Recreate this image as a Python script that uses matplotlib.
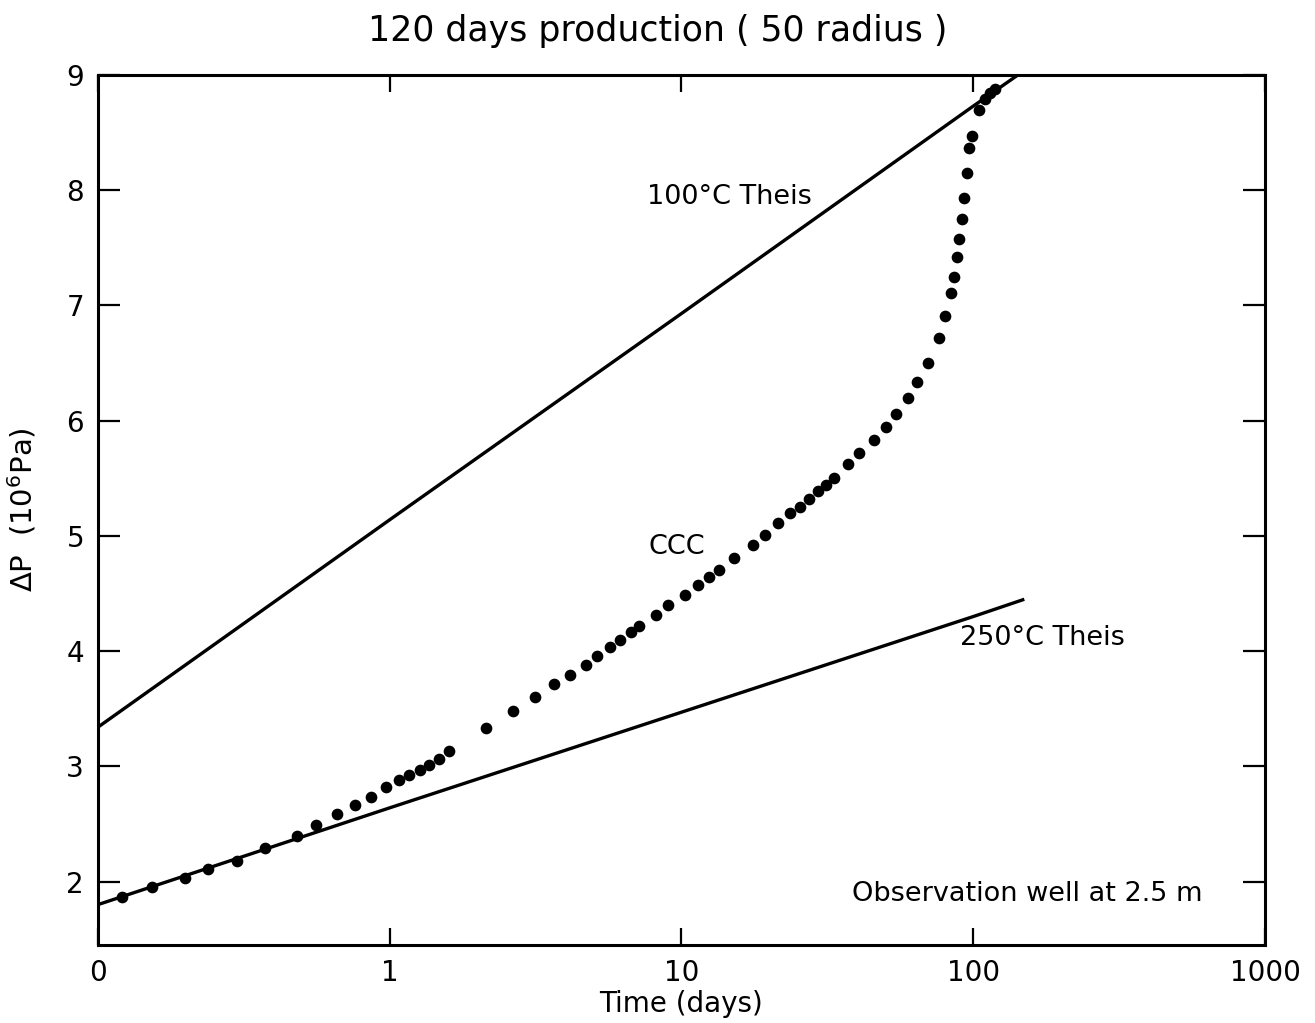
import numpy as np
import matplotlib
matplotlib.use("Agg")
import matplotlib.pyplot as plt

# ── data ─────────────────────────────────────────────────────────────────────
# CCC simulation, observation well at 2.5 m
ccc_t = [0.121, 0.153, 0.198, 0.239, 0.300, 0.375, 0.482, 0.560, 0.661, 0.758,
         0.860, 0.969, 1.074, 1.162, 1.268, 1.361, 1.470, 1.591, 2.138, 2.647,
         3.150, 3.661, 4.156, 4.716, 5.145, 5.702, 6.170, 6.734, 7.173, 8.208,
         9.022, 10.32, 11.35, 12.38, 13.40, 15.09, 17.54, 19.29, 21.38, 23.50,
         25.44, 27.32, 29.34, 31.26, 33.30, 37.19, 40.58, 45.68, 50.23, 54.37,
         59.80, 64.21, 70.05, 76.42, 80.14, 84.03, 86.05, 88.10, 89.52, 91.67,
         93.13, 95.37, 96.90, 99.22, 104.9, 110.0, 114.4, 119.0]
ccc_dp = [1.870, 1.957, 2.035, 2.106, 2.182, 2.294, 2.398, 2.487, 2.588, 2.666,
          2.738, 2.822, 2.885, 2.928, 2.971, 3.015, 3.064, 3.133, 3.332, 3.479,
          3.600, 3.713, 3.791, 3.877, 3.955, 4.033, 4.093, 4.163, 4.215, 4.310,
          4.396, 4.491, 4.578, 4.647, 4.708, 4.811, 4.924, 5.010, 5.114, 5.201,
          5.253, 5.322, 5.391, 5.443, 5.503, 5.625, 5.720, 5.832, 5.945, 6.057,
          6.196, 6.334, 6.498, 6.716, 6.906, 7.104, 7.251, 7.424, 7.580, 7.753,
          7.934, 8.151, 8.367, 8.471, 8.696, 8.791, 8.843, 8.877]

# Theis solutions
theis100_t  = [0.1, 1.0, 10.0, 100.0, 146.0]
theis100_dp = [3.34, 5.14, 6.93, 8.73, 9.02]
theis250_t  = [0.1, 1.0, 10.0, 100.0, 149.6]
theis250_dp = [1.80, 2.64, 3.47, 4.30, 4.45]

x_ticks  = [0.1, 1, 10, 100, 1000]
x_labels = ["0", "1", "10", "100", "1000"]
y_ticks  = [2, 3, 4, 5, 6, 7, 8, 9]

# ── figure ───────────────────────────────────────────────────────────────────
plt.rcParams["font.family"] = ["DejaVu Sans"]
fig = plt.figure(figsize=(13.15, 10.23), dpi=100, facecolor="white")
ax = fig.add_axes([0.0745, 0.0763, 0.8875, 0.8504])

ax.plot(theis100_t, theis100_dp, color="black", lw=2.4, solid_capstyle="butt")
ax.plot(theis250_t, theis250_dp, color="black", lw=2.4, solid_capstyle="butt")
ax.plot(ccc_t, ccc_dp, "o", color="black", ms=7.4, mec="black")

ax.set_xscale("log")
ax.set_xlim(0.1, 1000)
ax.set_ylim(1.45, 9)
ax.set_xticks(x_ticks)
ax.set_xticklabels(x_labels)
ax.set_yticks(y_ticks)
ax.minorticks_off()

for spine in ax.spines.values():
    spine.set_linewidth(2.2)

ax.tick_params(axis="both", which="major", direction="in", width=1.6,
               length=12, labelsize=20, top=True, right=True, pad=10)
ax.tick_params(axis="y", length=16)

ax.set_xlabel("Time (days)", fontsize=20, labelpad=2)
ax.set_ylabel("ΔP  (10$^6$Pa)", fontsize=21, labelpad=20)
fig.text(0.5, 0.970, "120 days production ( 50 radius )", ha="center",
         va="center", fontsize=25)

ax.text(14.6, 7.94, "100°C Theis", fontsize=19.5, ha="center", va="center")
ax.text(9.6, 4.90, "CCC", fontsize=19.5, ha="center", va="center")
ax.text(172, 4.11, "250°C Theis", fontsize=19.5, ha="center", va="center")
ax.text(153, 1.89, "Observation well at 2.5 m", fontsize=19.5,
        ha="center", va="center")

plt.savefig("out.png", dpi=100, facecolor="white")
plt.close()
